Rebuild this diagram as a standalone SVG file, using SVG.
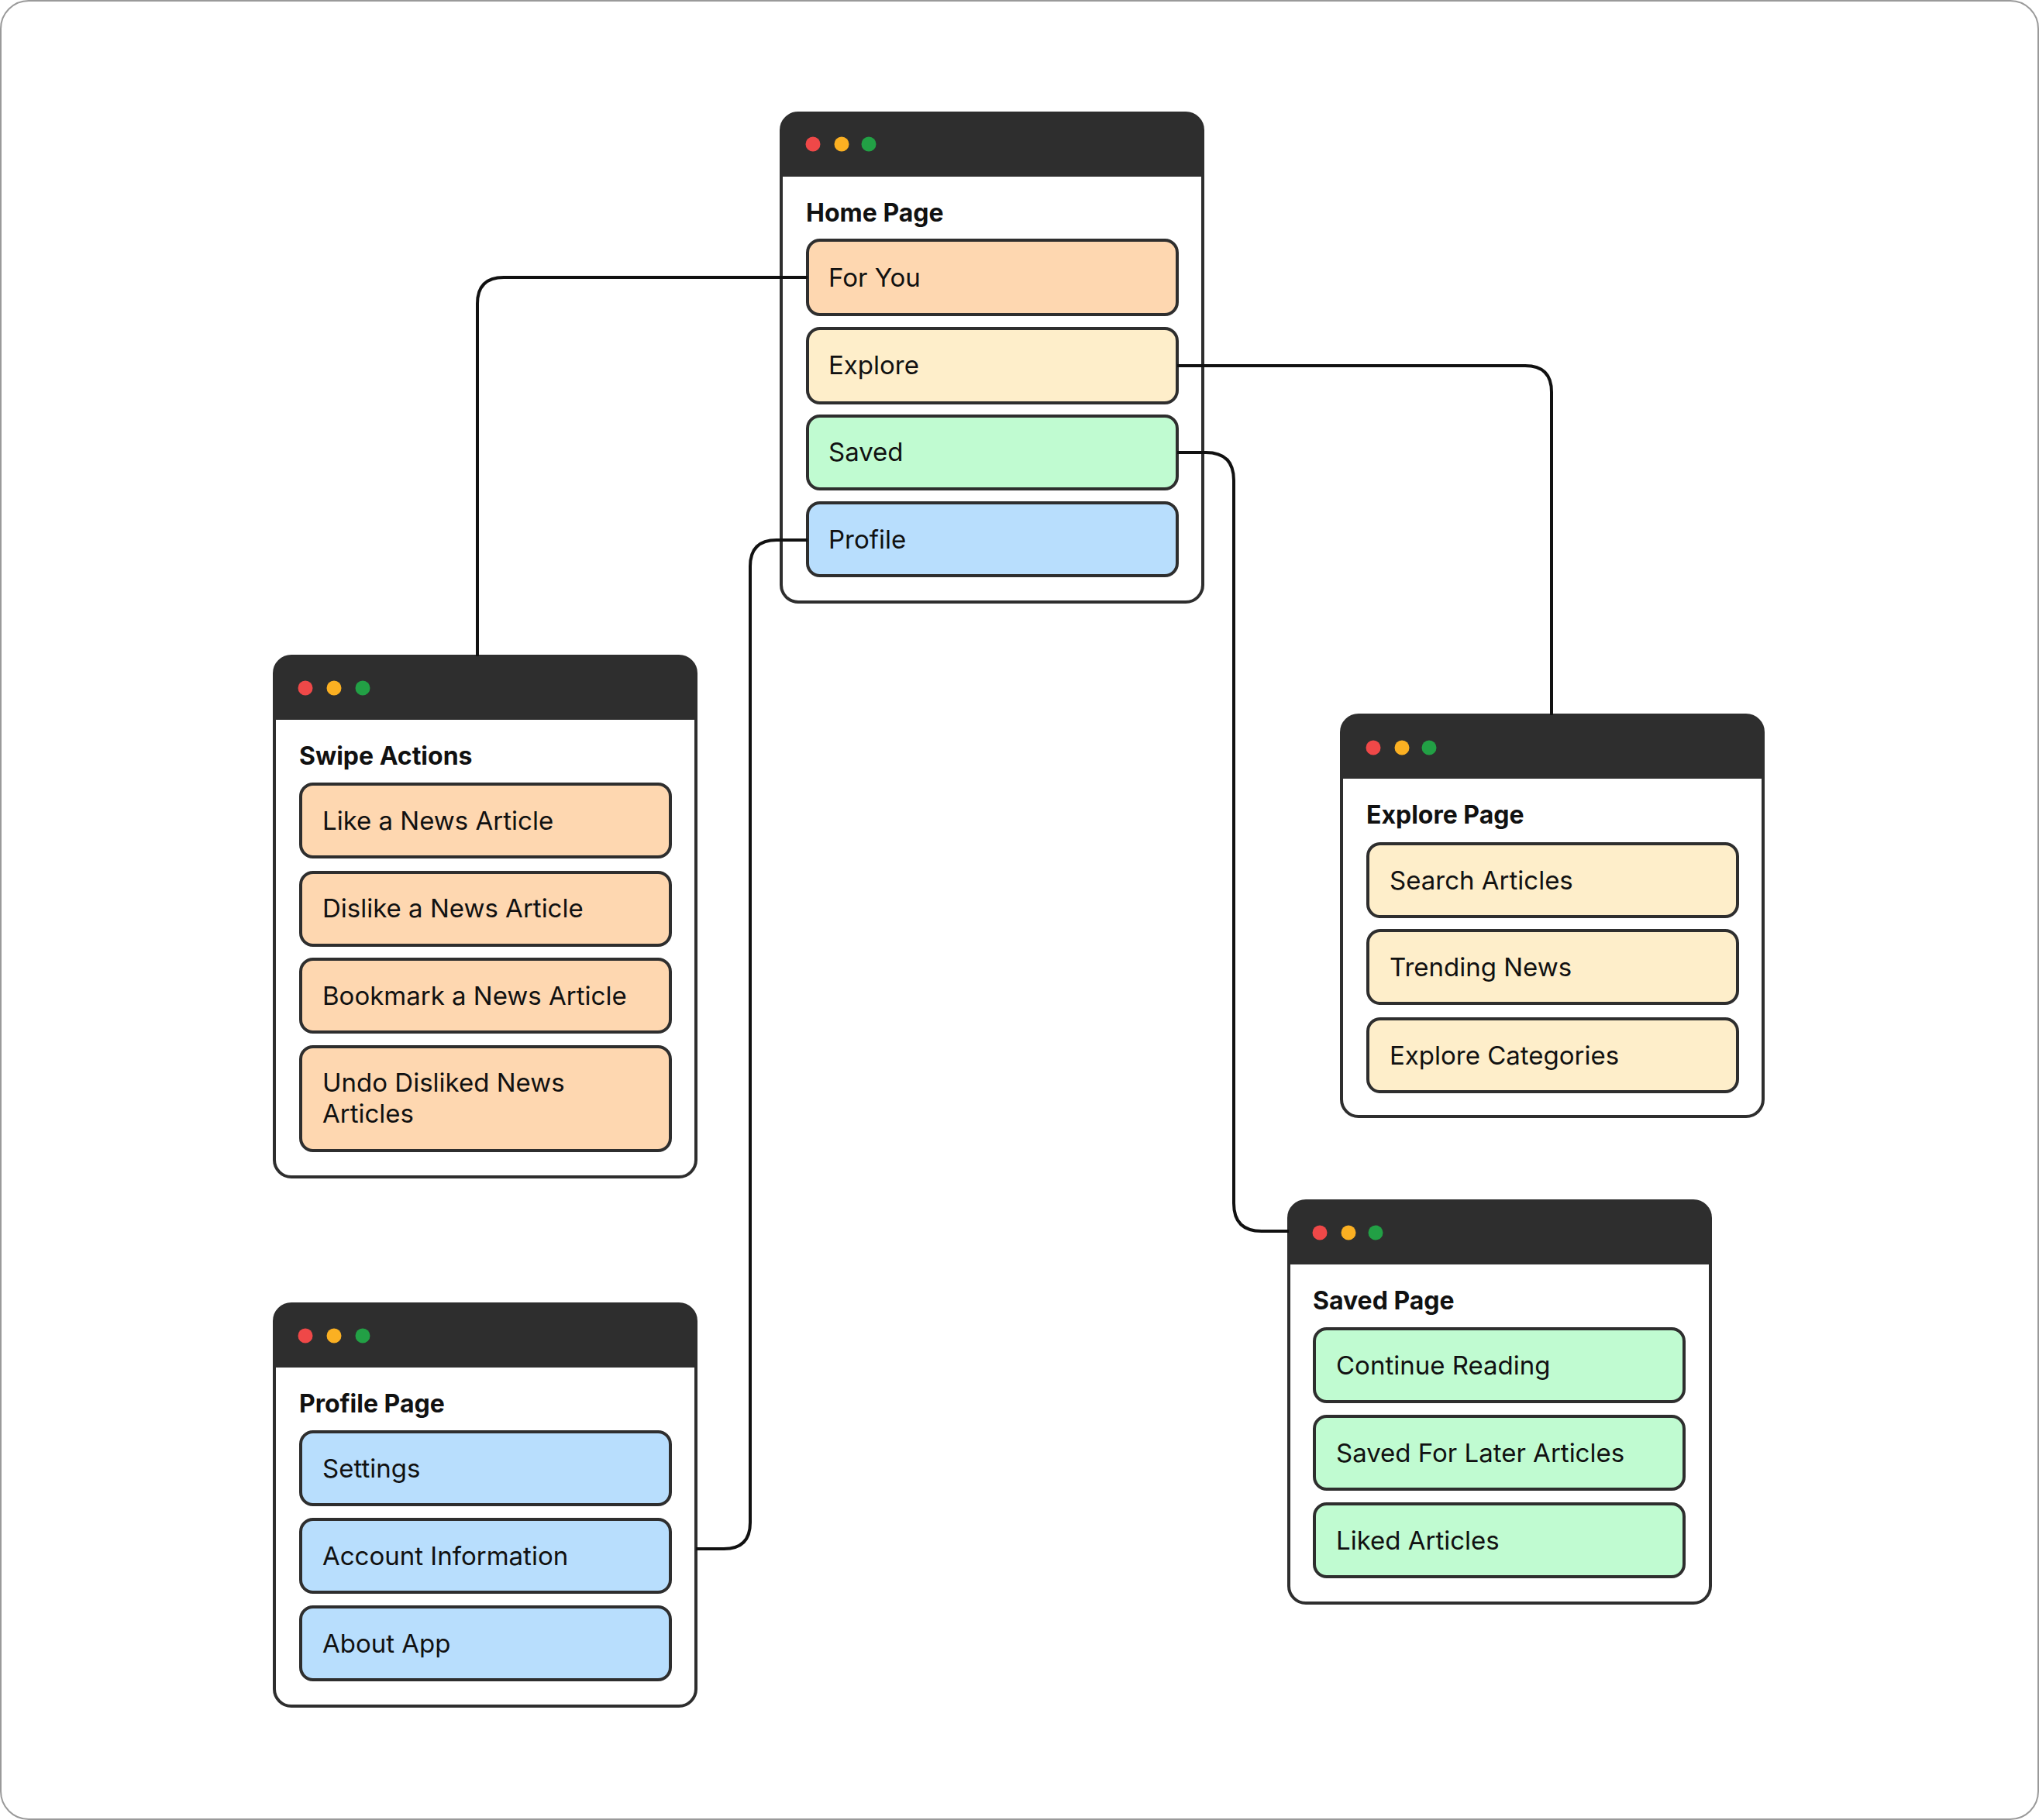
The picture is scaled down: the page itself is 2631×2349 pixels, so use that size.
<svg xmlns="http://www.w3.org/2000/svg" width="2631" height="2349" viewBox="0 0 2631 2349">
<style>
.bg{fill:#fff;stroke:#9a9a9a;stroke-width:2}
.frame{fill:#fff;stroke:#2e2e2e;stroke-width:4}
.hdr{fill:#2e2e2e}
.r{fill:#ef4848}.y{fill:#fbb022}.g{fill:#22a045}
.item{stroke:#2e2e2e;stroke-width:4}
.or{fill:#fed7b0}.cr{fill:#feeeca}.gr{fill:#c0fbd1}.bl{fill:#b8defd}
.title{font-family:Inter,"Liberation Sans",sans-serif;font-weight:700;font-size:32px;fill:#111}
.lbl{font-family:Inter,"Liberation Sans",sans-serif;font-weight:400;font-size:33px;fill:#111}
.conn{fill:none;stroke:#111;stroke-width:4}
</style>
<rect class="bg" x="1" y="1" width="2629" height="2347" rx="36"/>
<g id="home">
<rect class="frame" x="1008" y="146" width="544" height="631" rx="22"/>
<path class="hdr" d="M1008,228 V168 Q1008,146 1030,146 H1530 Q1552,146 1552,168 V228 Z"/>
<circle class="r" cx="1049" cy="186" r="9.5"/><circle class="y" cx="1086" cy="186" r="9.5"/><circle class="g" cx="1121" cy="186" r="9.5"/>
<text class="title" x="1040" y="286">Home Page</text>
<rect class="item or" x="1042" y="310" width="477" height="96" rx="16"/><text class="lbl" x="1069" y="370">For You</text>
<rect class="item cr" x="1042" y="424" width="477" height="96" rx="16"/><text class="lbl" x="1069" y="483">Explore</text>
<rect class="item gr" x="1042" y="537" width="477" height="94" rx="16"/><text class="lbl" x="1069" y="595">Saved</text>
<rect class="item bl" x="1042" y="649" width="477" height="94" rx="16"/><text class="lbl" x="1069" y="708">Profile</text>
</g>
<g id="swipe">
<rect class="frame" x="354" y="847" width="544" height="672" rx="22"/>
<path class="hdr" d="M354,929 V869 Q354,847 376,847 H876 Q898,847 898,869 V929 Z"/>
<circle class="r" cx="394" cy="888" r="9.5"/><circle class="y" cx="431" cy="888" r="9.5"/><circle class="g" cx="468" cy="888" r="9.5"/>
<text class="title" x="386" y="987">Swipe Actions</text>
<rect class="item or" x="388" y="1012" width="477" height="94" rx="16"/><text class="lbl" x="416" y="1071">Like a News Article</text>
<rect class="item or" x="388" y="1126" width="477" height="94" rx="16"/><text class="lbl" x="416" y="1184">Dislike a News Article</text>
<rect class="item or" x="388" y="1238" width="477" height="94" rx="16"/><text class="lbl" x="416" y="1297">Bookmark a News Article</text>
<rect class="item or" x="388" y="1351" width="477" height="134" rx="16"/><text class="lbl" x="416" y="1409">Undo Disliked News</text><text class="lbl" x="416" y="1449">Articles</text>
</g>
<g id="explore">
<rect class="frame" x="1731" y="923" width="544" height="518" rx="22"/>
<path class="hdr" d="M1731,1005 V945 Q1731,923 1753,923 H2253 Q2275,923 2275,945 V1005 Z"/>
<circle class="r" cx="1772" cy="965" r="9.5"/><circle class="y" cx="1809" cy="965" r="9.5"/><circle class="g" cx="1844" cy="965" r="9.5"/>
<text class="title" x="1763" y="1063">Explore Page</text>
<rect class="item cr" x="1765" y="1089" width="477" height="94" rx="16"/><text class="lbl" x="1793" y="1148">Search Articles</text>
<rect class="item cr" x="1765" y="1201" width="477" height="94" rx="16"/><text class="lbl" x="1793" y="1260">Trending News</text>
<rect class="item cr" x="1765" y="1315" width="477" height="94" rx="16"/><text class="lbl" x="1793" y="1374">Explore Categories</text>
</g>
<g id="saved">
<rect class="frame" x="1663" y="1550" width="544" height="519" rx="22"/>
<path class="hdr" d="M1663,1632 V1572 Q1663,1550 1685,1550 H2185 Q2207,1550 2207,1572 V1632 Z"/>
<circle class="r" cx="1703" cy="1591" r="9.5"/><circle class="y" cx="1740" cy="1591" r="9.5"/><circle class="g" cx="1775" cy="1591" r="9.5"/>
<text class="title" x="1694" y="1690">Saved Page</text>
<rect class="item gr" x="1696" y="1715" width="477" height="94" rx="16"/><text class="lbl" x="1724" y="1774">Continue Reading</text>
<rect class="item gr" x="1696" y="1828" width="477" height="94" rx="16"/><text class="lbl" x="1724" y="1887">Saved For Later Articles</text>
<rect class="item gr" x="1696" y="1941" width="477" height="94" rx="16"/><text class="lbl" x="1724" y="2000">Liked Articles</text>
</g>
<g id="profile">
<rect class="frame" x="354" y="1683" width="544" height="519" rx="22"/>
<path class="hdr" d="M354,1765 V1705 Q354,1683 376,1683 H876 Q898,1683 898,1705 V1765 Z"/>
<circle class="r" cx="394" cy="1724" r="9.5"/><circle class="y" cx="431" cy="1724" r="9.5"/><circle class="g" cx="468" cy="1724" r="9.5"/>
<text class="title" x="386" y="1823">Profile Page</text>
<rect class="item bl" x="388" y="1848" width="477" height="94" rx="16"/><text class="lbl" x="416" y="1907">Settings</text>
<rect class="item bl" x="388" y="1961" width="477" height="94" rx="16"/><text class="lbl" x="416" y="2020">Account Information</text>
<rect class="item bl" x="388" y="2074" width="477" height="94" rx="16"/><text class="lbl" x="416" y="2133">About App</text>
</g>
<g id="connectors">
<path class="conn" d="M1042,358 H650 Q616,358 616,392 V847"/>
<path class="conn" d="M1519,472 H1968 Q2002,472 2002,506 V923"/>
<path class="conn" d="M1519,584 H1556 Q1592,584 1592,620 V1553 Q1592,1589 1628,1589 H1663"/>
<path class="conn" d="M1042,697 H1002 Q968,697 968,731 V1965 Q968,1999 934,1999 H898"/>
</g>
</svg>
